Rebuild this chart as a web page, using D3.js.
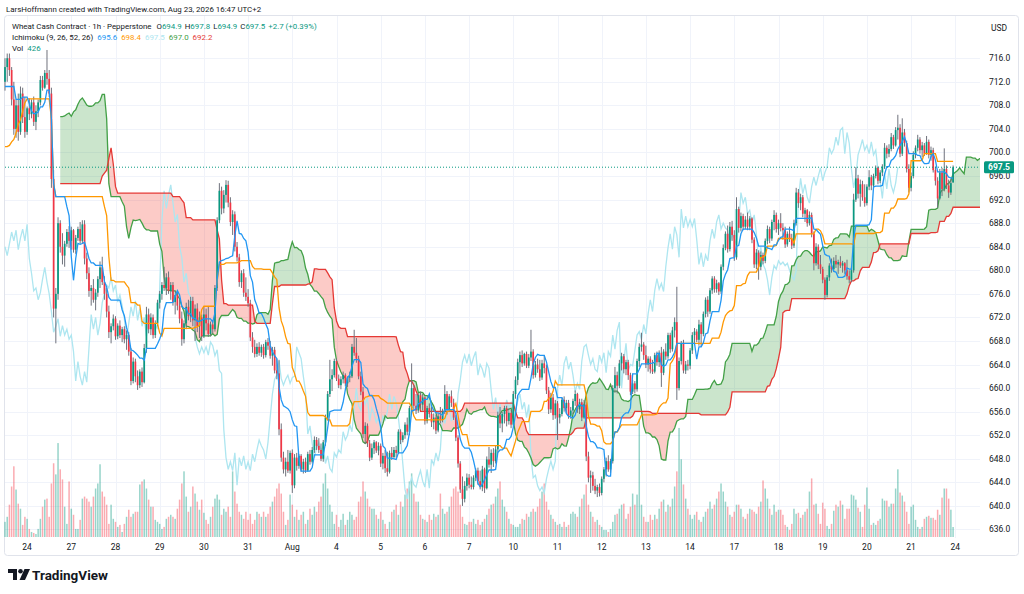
<!DOCTYPE html>
<html>
<head>
<meta charset="utf-8">
<script src="https://cdn.jsdelivr.net/npm/d3@7"></script>
<style>
html, body { margin: 0; padding: 0; background: #ffffff; }
svg { display: block; font-family: Roboto, "Liberation Sans", sans-serif; }
</style>
</head>
<body>
<div id="my_dataviz"></div>
<script>
// hourly candles, Jul 23 (last 10 bars) to Aug 21, 20 bars per session
var opens = [
712,714.5,716,714,709,704,708,703.5,710,706,
703.5,707.5,706.5,708.5,705.2,707,708.5,712.3,711,713.5,
712.5,710,695.5,673.5,676,688,684,682.5,684.5,686.5,
685,686.8,683.5,685.5,687,685,687.8,682,679.5,676.5,
677,675,676.2,678.5,680.5,678,676,673,669.5,670.5,
671.8,668.8,670.6,669,670,668.3,669,666.2,661.2,664.5,
662,660.5,662.8,661,666.8,672.5,670,672,669,671,
674.5,676,677.5,677,678.8,676.5,677.5,674.6,675.8,674,
671.8,668.3,671,673.8,672.2,674.8,671.5,673.5,670.5,672,
668.8,672.5,671,669.2,670.8,670,677,688.5,693.5,690.5,
692.8,694.5,691.5,688.2,689.5,684,682.2,678,679.5,676.2,
675.5,674.4,668.6,667,665.8,667,666,667,665.6,667.8,
667.2,665.5,666.5,663,662.5,653,648.2,646.2,647.5,646,
649,643.5,648.2,646.8,648.5,646.2,647.5,646,648.8,647.5,
649.5,651.2,650.2,649.5,648,650.8,655,659,661.5,662.2,
664.6,661.6,660.5,661.5,662.2,660.8,661.8,662,667,666,
665,662,659.4,652.2,653.6,650.6,648.2,649.8,650.8,649.4,
650.2,647.2,648.5,646.4,645.8,649,648.3,649.5,649,652.6,
651.2,652,653.8,652.6,656.6,660,657,656.2,658.8,657.2,
658.4,654.4,656.6,655.6,654.2,655,652.8,655.2,654.6,656,
659,656.4,658.6,657.5,655,651.6,647.2,642.8,641.2,643.4,
644.8,643.6,643.2,644.8,646,644.2,643.2,646.2,643,647.9,
647,649,647.6,649.6,655.4,654,655.6,656.6,654.4,655.8,
653.8,659,661.4,664.4,665.6,664.2,665.8,663.8,665.2,666.2,
662.2,664,663.2,661.8,664.2,663.4,659.6,656.4,658.4,655.4,
657.4,655,655.6,658,656.6,657.5,655.3,656.2,657.8,659,
656.4,657.6,655,657.2,648.4,644.8,645.2,643.4,642.6,643.2,
642.2,644.6,646.2,647.6,646.2,647.6,660,662.2,660.4,664.2,
665.4,663.2,664.4,662.2,659.4,660.8,659.8,664.6,667,667.4,
665.6,664,665,663.2,662.8,665.6,664.4,666,662.6,666.2,
665.4,669,666.6,669.8,671.2,660,664.6,667.6,663,664,
663.8,666.4,669,669.6,668.2,670.8,669.2,672.6,675,673,
676.6,678.6,676.8,677.8,676.4,680.6,683.8,686.2,683.6,687.4,
686,682.2,690.4,687.2,689.2,687.4,688.6,687.4,688.8,685.2,
681,683,680.6,682.6,681.6,685,687,685.4,688.2,689.4,
687,688,687.2,686.8,684.4,686.2,685.4,684.2,688,693.2,
691.4,692.4,689.6,690.2,688,689.4,686.2,681.2,684,681,
680.2,678.4,675.8,678.8,680.8,680.2,681.6,681,681.4,680.8,
681.2,680,679,678.4,680,692,695.6,693,694.6,692.4,
691.4,694.2,695.8,694.4,696,697.4,695.2,696.6,697.6,700.8,
699.8,700.6,702.6,701.2,703.8,704.2,699.8,703.4,701.6,697.2,
694,696,699.6,700.8,702.2,700.4,701.2,699.8,701.8,699.6,
700.4,697,695.2,692.2,696.6,693.8,697.2,694.4,693.2,694.9
];
var highs = [
716,716.8,716.8,714.5,712,709,710,711.2,711,709.4,
707.8,709.2,709,709.5,708,709,713,713,714,717.4,
714,711,697,677,689,688.5,686.3,685,687,687.5,
687.4,687,686,687.4,688.2,688.5,688.5,683,680.5,677.5,
678.5,676.8,679,681.5,682.3,679,677,674,671,672.5,
672.2,671,671.5,670.4,670.5,669.8,669.5,666.8,665.2,665,
663,663.2,663.5,667.5,673.8,673.5,672.7,672.5,671.5,675,
676.5,678,680.6,679.5,679.8,678,678,676.5,676.5,675,
673,671.5,674.5,675,675.5,675.5,674.2,674.4,673,672.5,
673.8,673.5,673.8,671.3,671.5,677.5,689,694.8,694.2,693.6,
695.3,695.2,692.4,690.2,690,684.8,682.8,680,680.2,678.8,
676.8,675,669.5,668.2,667.6,667.8,667.4,667.5,668.2,668.5,
668,667,667,665,664.8,654,649.2,648.2,649.5,649.4,
649.6,648.8,649,648.8,648.8,648,648.2,649.2,649.5,650,
651.8,651.7,651.5,650.6,651.2,655.5,659.5,664.8,663.2,665,
665,662.3,662,662.8,662.5,662,662.8,667.5,669.9,668.5,
665.5,662.8,660.2,654.2,654,651.2,650.6,651.2,651,650.8,
650.6,649,649.5,649.2,649.4,650,650,650.2,653,653,
652.5,654.2,655,657,664.2,660.5,659,659.2,659.4,659,
658.6,657,657.4,656.8,655.7,655.5,655.7,656.8,656.5,660.5,
659.5,659,659.6,658.2,655.4,652,647.6,645,644.2,645.5,
645.4,645,645.2,646.4,646.5,646,646.8,646.5,648.4,650,
649.6,649.8,650.2,656,656.8,656,657,657,656.5,656.3,
659.5,662,665,666.2,666.4,666,666.2,665.8,669.9,666.6,
664.6,665,664.8,664.8,665.6,664,660.2,659.2,659,658,
657.8,656.6,658.4,658.6,658,658,656.8,658.2,659.6,659.2,
658.2,658.2,658,657.6,649.2,646,645.8,644.6,643.6,643.8,
645,646.6,648.2,648.6,648,660.5,663.6,662.8,664.8,666,
665.8,664.8,664.8,662.6,661.4,661.2,665,667.6,669.4,667.8,
667.2,665.4,665.4,664.8,666,666.2,666.4,667,666.6,667.6,
669.4,669.4,670.4,672,677.2,665.2,668,668.2,664.6,664.8,
666.8,669.5,670.2,670,671.6,671.2,673,675.4,675.6,677,
679,679,678.4,678,681,684.4,686.6,687.6,688.2,688.4,
686.8,692.4,690.8,689.8,689.6,689.2,689.8,689.2,689,685.6,
683.6,683.4,683.2,683,685.4,687.6,687.4,688.6,690.2,689.8,
688.6,689.7,688,687.4,686.6,687.4,686.2,688.6,694,693.8,
693,692.8,690.6,690.4,690,689.8,686.6,684.6,684.4,682.6,
680.6,678.8,679.2,681.2,682,682.2,682.6,681.8,682.4,681.6,
681.4,681.8,680,680.6,693,697.5,696.2,695.4,695.2,694.6,
694.6,697,696.2,696.4,697.8,697.6,697,698,701.6,701.2,
701.4,703.3,703,704.3,706.4,704.8,705.8,704,702,698,
696.6,700.2,701.2,703,702.6,701.8,701.6,702.8,702.2,701,
700.8,697.6,695.8,697.2,697.4,700.7,697.8,695.4,695.6,697.8
];
var lows = [
710.5,712,713,708,703,702.5,702,703,705,702.5,
703,705.5,705.8,704.5,703.8,706,708,710.5,710.8,711.5,
709.4,694,672,667.6,675,683,681,680.6,684,683.8,
683.5,683,682.8,685,684.5,684.5,681,678.5,675.5,674,
674.5,673.2,675.5,677,677.5,675,672,668.5,667.6,669.8,
668.2,668.3,668.5,667.8,667.6,666.5,665.5,660.5,660.8,661,
659.7,660,660.2,660.8,666,669.3,669,668.4,668.5,670.5,
673.5,675,676.5,675.8,676,675,674,672.5,673.2,671,
667.2,667.6,670,671.5,671.2,670.5,668,669.5,668.5,668,
668.5,669.8,668.7,668.8,669.3,669.6,676.5,688,689.5,689.7,
691.5,690.7,687.5,686,683.2,681.5,677.2,677,675.5,674.8,
673.8,668,666,665.2,665.3,665.5,665.3,665,665.2,666.5,
665,663.8,662.5,661.5,652,647.5,645.5,645,645.6,645.5,
642.2,643,646,646.3,645.8,645.5,645.6,645.8,647,647.2,
649,649.5,649,647.6,647.5,650.2,654.5,658.5,659.5,661.8,
661.2,660,659.8,660.8,660.3,660.2,661,661.7,665.5,664.3,
661.5,658.8,651.5,650.5,650,647.6,647.8,648.8,649,648.6,
646.6,646.2,645.6,645,645.5,647.8,648,648.2,648.8,650.5,
650.8,651.4,652,652,655.8,656.2,655.6,655.8,656.5,656.2,
653.8,654,655,653.4,653,652.2,652.5,654,654.2,655.6,
655.5,656,656.8,654.6,651,646.5,642.2,640,640.6,642.6,
643,642.8,642.8,644.2,643.6,642.8,642.5,642.2,642.8,646.5,
645.6,646.6,647.2,649,653.2,652.5,654,653.5,653.8,653.2,
653.5,658.2,660.5,662.5,663.6,663.8,663.4,663.4,664.6,661.6,
661.8,662.6,661.2,661.4,662.5,659,655.6,655.8,654.6,654.8,
651.2,654,655.2,656,655.8,654.8,654.8,655.6,657,655.8,
655.6,654.4,654.8,647.6,644,642.2,642.6,642,641.5,641.6,
641.8,644,645,645.8,645.6,647.2,659.2,659.1,660,663,
662.5,662.2,661.4,658.8,659,659.1,659.4,663.6,666.2,664.8,
663.4,662.8,662.5,662.4,662.5,663.8,663.6,660.2,662.2,664.8,
665,666,666.2,668.6,658,659.6,664,662.5,662.4,663,
663.2,665.8,667.6,667.8,667.2,667,668.8,672,672.1,672.6,
676,676.2,676.2,675.8,676,680,683.4,683,683.2,685,
681.6,681.8,686.4,686.6,686.8,687,686.8,686.8,684.6,680.4,
680.2,678.4,680,681,681.2,684.4,684.6,685,686.8,686.4,
686,686.6,685.2,683.8,684,684.8,683.6,683.8,687.6,690.6,
690.2,689,688.2,687.4,687.6,685.6,680,680.8,680.2,679.4,
677.8,675,675.4,678.2,679.6,679.8,680.4,679.4,680.4,679.6,
679.4,678.4,677.8,678,679.6,691.6,692.2,690.8,691.8,690.8,
691,693.6,693.6,694,695.6,694.6,694.8,696,697.2,699,
699.2,700.2,700.6,701,702.2,699.2,699.4,701,696.6,693.2,
693.4,695.6,699,700.2,699.8,699.2,699.4,699.6,699,698.6,
696.6,694.4,690.6,692,692.6,693.4,693.8,692.3,692.8,694.9
];
var closes = [
714.5,716,714,709,704,708,703.5,710,706,703.5,
707.5,706.5,708.5,705.2,707,708.5,712.3,711,713.5,712.5,
710,695.5,673.5,676,688,684,682.5,684.5,686.5,685,
686.8,683.5,685.5,687,685,687.8,682,679.5,676.5,677,
675,676.2,678.5,680.5,678,676,673,669.5,670.5,671.8,
668.8,670.6,669,670,668.3,669,666.2,661.2,664.5,662,
660.5,662.8,661,666.8,672.5,670,672,669,671,674.5,
676,677.5,677,678.8,676.5,677.5,674.6,675.8,674,671.8,
668.3,671,673.8,672.2,674.8,671.5,673.5,670.5,672,668.8,
672.5,671,669.2,670.8,670,677,688.5,693.5,690.5,692.8,
694.5,691.5,688.2,689.5,684,682.2,678,679.5,676.2,675.5,
674.4,668.6,667,665.8,667,666,667,665.6,667.8,667.2,
665.5,666.5,663,662.5,653,648.2,646.2,647.5,646,649,
643.5,648.2,646.8,648.5,646.2,647.5,646,648.8,647.5,649.5,
651.2,650.2,649.5,648,650.8,655,659,661.5,662.2,664.6,
661.6,660.5,661.5,662.2,660.8,661.8,662,667,666,665,
662,659.4,652.2,653.6,650.6,648.2,649.8,650.8,649.4,650.2,
647.2,648.5,646.4,645.8,649,648.3,649.5,649,652.6,651.2,
652,653.8,652.6,656.6,660,657,656.2,658.8,657.2,658.4,
654.4,656.6,655.6,654.2,655,652.8,655.2,654.6,656,659,
656.4,658.6,657.5,655,651.6,647.2,642.8,641.2,643.4,644.8,
643.6,643.2,644.8,646,644.2,643.2,646.2,643,647.9,647,
649,647.6,649.6,655.4,654,655.6,656.6,654.4,655.8,653.8,
659,661.4,664.4,665.6,664.2,665.8,663.8,665.2,666.2,662.2,
664,663.2,661.8,664.2,663.4,659.6,656.4,658.4,655.4,657.4,
655,655.6,658,656.6,657.5,655.3,656.2,657.8,659,656.4,
657.6,655,657.2,648.4,644.8,645.2,643.4,642.6,643.2,642.2,
644.6,646.2,647.6,646.2,647.6,660,662.2,660.4,664.2,665.4,
663.2,664.4,662.2,659.4,660.8,659.8,664.6,667,667.4,665.6,
664,665,663.2,662.8,665.6,664.4,666,662.6,666.2,665.4,
669,666.6,669.8,671.2,660,664.6,667.6,663,664,663.8,
666.4,669,669.6,668.2,670.8,669.2,672.6,675,673,676.6,
678.6,676.8,677.8,676.4,680.6,683.8,686.2,683.6,687.4,686,
682.2,690.4,687.2,689.2,687.4,688.6,687.4,688.8,685.2,681,
683,680.6,682.6,681.6,685,687,685.4,688.2,689.4,687,
688,687.2,686.8,684.4,686.2,685.4,684.2,688,693.2,691.4,
692.4,689.6,690.2,688,689.4,686.2,681.2,684,681,680.2,
678.4,675.8,678.8,680.8,680.2,681.6,681,681.4,680.8,681.2,
680,679,678.4,680,692,695.6,693,694.6,692.4,691.4,
694.2,695.8,694.4,696,697.4,695.2,696.6,697.6,700.8,699.8,
700.6,702.6,701.2,703.8,704.2,699.8,703.4,701.6,697.2,694,
696,699.6,700.8,702.2,700.4,701.2,699.8,701.8,699.6,700.4,
697,695.2,692.2,696.6,693.8,697.2,694.4,693.2,694.8,697.5
];
var volumes = [
645,860,1376,2150,3010,2021,1419,1204,516,860,
774,344,215,172,129,344,774,1290,1591,1634,
860,2279,3139,2666,3999,2881,2451,1290,559,2365,
1204,946,344,344,731,1634,1720,1634,1505,1290,
1720,2064,2279,3096,1935,1720,1376,559,1376,774,
645,430,516,215,559,860,1161,860,989,1075,
1075,2236,2365,2451,2064,1591,1290,1290,731,645,
559,344,430,774,860,946,860,774,1204,1591,
2279,2795,1720,1075,1290,2150,
1849,1505,1161,1591,1032,731,559,860,1290,1634,1806,1591,946,1204,1075,1290,860,
2795,1935,1419,1075,946,774,1075,731,989,559,731,1075,989,860,1075,860,989,1290,1505,1720,2064,
2279,1849,1075,516,731,1806,1376,860,1161,731,946,1075,559,731,1204,946,1290,1075,1505,1720,2279,2709,
2064,1376,1075,559,946,430,731,989,516,731,1075,946,731,860,1505,1720,2365,1935,1634,1290,1204,
1204,946,774,1075,731,559,344,645,1075,1161,1376,946,1505,1290,1806,2064,2365,2709,1849,1505,
1505,946,774,731,645,946,731,989,860,946,1849,1204,989,1075,1290,1720,2064,2150,1935,1376,860,559,516,645,
645,774,559,731,516,645,774,946,1204,1376,1419,1720,2064,2365,1591,1290,1075,774,559,516,430,
430,559,774,731,989,860,1075,1204,1075,1290,1634,1935,2279,1505,1161,946,774,645,516,
559,430,645,430,516,989,1075,989,860,1290,1634,1806,2236,1376,1075,860,645,731,516,430,301,
301,215,344,645,946,989,1204,1376,1419,774,989,1290,1849,1376,1806,5031,1376,860,645,
645,946,731,946,774,1204,1505,1591,1075,1376,1290,1634,2150,2795,4644,3311,2236,1634,1204,946,774,
946,1075,731,645,860,1075,1204,1505,1204,1376,1634,1935,2279,1935,1505,1290,946,860,1075,1376,
1376,1204,860,774,989,1204,1161,1075,989,1290,1505,2408,2064,1634,1204,946,1376,1075,1161,
1161,946,516,430,301,559,1204,989,1032,817,
946,1075,1204,1935,2494,1376,1419,989,559,1462,
1204,473,344,559,1118,1376,1290,1548,1376,774,
1204,1204,1806,1763,1591,1247,1075,430,1376,2107,
1204,516,602,516,688,774,1634,1548,1548,1290,
1419,1419,2064,2881,1892,1763,1505,1075,559,1290,
1376,731,430,344,430,774,860,903,817,817,
731,1161,946,1677,2064,2064,1634,1161,426
];

var tenkanHead = [711.2,711.2,711.2,711.2,711.2,709,709,709];
var kijunHead = [701,701,701.2,701.8,702.2,703.3,704.8,705.5,707,708.4,
    709.1,709.1,709.1,709.1,709.1,709.1,709.1,709.1,709.1,709.1,709.1,705.7,694.7,692.5,692.5];
var spanBHead = [694.7,694.7,694.7,694.7,694.7,694.7,694.7,694.7,694.7,694.7,
    694.7,694.7,694.7,694.7,694.7,694.7,694.7,694.7,694.7,696,696.5,697,699,700.8,698,694.2,
    693.1,693.1,693.1,693.1,693.1,693.1,693.1,693.1,693.1,693.1,693.1,693.1,693.1,693.1,
    693.1,693.1,693.1,693.1,693.1,693.1,693.1,693.1,693.1,693.1,693.1];

var dayLabels = ["24","27","28","29","30","31","Aug","4","5","6","7","10","11","12","13","14","17","18","19","20","21","24"];
var priceTicks = [636,640,644,648,652,656,660,664,668,672,676,680,684,688,692,696,700,704,708,712,716];
var ohlcLabels = ["O","H","L","C"];
var ohlcValues = ["694.9","697.8","694.9","697.5"];
var ichiValues = ["695.6","698.4","697.5","697.0","692.2"];
var lastPrice = 697.5;

var width = 1024;
var height = 594;
var barsPerDay = 20;
var firstDayBar = 10;
var shift = 25;

var up_colour = '#089981';
var down_colour = '#F23645';
var text_colour = '#131722';
var grid_colour = '#f0f3fa';

var svg = d3.select("#my_dataviz").append('svg').attr('width', width).attr('height', height);

var n = closes.length;
var idx = d3.range(n);

var x = d3.scaleLinear().domain([0, n - 1]).range([5, 5 + (n - 1) * 2.21]);
var y = d3.scaleLinear().domain([633.4, 723.0]).range([544.8, 17]);
var vy = d3.scaleLinear().domain([0, 4300]).range([537, 436]);

// ichimoku lines
function mid(i, len){
    var lo = i - len + 1;
    return (d3.max(highs.slice(lo, i + 1)) + d3.min(lows.slice(lo, i + 1))) / 2;
}
var tenkan = idx.map(function(i){ return i < 8 ? tenkanHead[i] : mid(i, 9); });
var kijun = idx.map(function(i){ return i < 25 ? kijunHead[i] : mid(i, 26); });
var spanA = idx.map(function(i){ return (tenkan[i] + kijun[i]) / 2; });
var spanB = idx.map(function(i){ return i < 51 ? spanBHead[i] : mid(i, 52); });

var defs = svg.append('defs');
defs.append('clipPath').attr('id', 'plot_clip').append('rect')
    .attr('x', 4).attr('y', 16).attr('width', 976).attr('height', 522);

// frame
svg.append('rect').attr('x', 4.5).attr('y', 15.5).attr('width', 1014).attr('height', 540)
    .attr('rx', 3).attr('fill', 'none').attr('stroke', '#e0e3eb');

// grid
var grid_group = svg.append('g').attr('class', 'grid_group');
grid_group.selectAll('.h_grid').data(priceTicks).enter().append('line')
    .attr('x1', 5).attr('x2', 980)
    .attr('y1', function(d){ return Math.round(y(d)) + 0.5; })
    .attr('y2', function(d){ return Math.round(y(d)) + 0.5; })
    .attr('stroke', grid_colour).attr('stroke-width', 1);
grid_group.selectAll('.v_grid').data(dayLabels).enter().append('line')
    .attr('x1', function(d, k){ return Math.round(x(firstDayBar + k * barsPerDay)) + 0.5; })
    .attr('x2', function(d, k){ return Math.round(x(firstDayBar + k * barsPerDay)) + 0.5; })
    .attr('y1', 16).attr('y2', 538)
    .attr('stroke', grid_colour).attr('stroke-width', 1);

var plot = svg.append('g').attr('clip-path', 'url(#plot_clip)');

// volume
plot.append('g').selectAll('rect').data(idx.filter(function(i){ return volumes[i] != null; })).enter().append('rect')
    .attr('x', function(i){ return x(i) - 0.75; })
    .attr('width', 1.5)
    .attr('y', function(i){ return vy(volumes[i]); })
    .attr('height', function(i){ return vy(0) - vy(volumes[i]); })
    .attr('fill', function(i){ return closes[i] >= opens[i] ? 'rgba(8,153,129,0.42)' : 'rgba(242,54,69,0.42)'; });

// cloud
var lead = idx.map(function(i){ return {i: i + shift, a: spanA[i], b: spanB[i]}; });
plot.append('path').datum(lead)
    .attr('d', d3.area().x(function(d){ return x(d.i); })
        .y0(function(d){ return y(d.b); })
        .y1(function(d){ return y(Math.max(d.a, d.b)); }))
    .attr('fill', 'rgba(67,160,71,0.28)');
plot.append('path').datum(lead)
    .attr('d', d3.area().x(function(d){ return x(d.i); })
        .y0(function(d){ return y(d.b); })
        .y1(function(d){ return y(Math.min(d.a, d.b)); }))
    .attr('fill', 'rgba(244,67,54,0.28)');

var line = d3.line().x(function(d){ return x(d.i); }).y(function(d){ return y(d.v); });

var lagging = idx.filter(function(i){ return i >= shift; }).map(function(i){ return {i: i - shift, v: closes[i]}; });
plot.append('path').datum(lagging).attr('d', line)
    .attr('fill', 'none').attr('stroke', '#aee6f0').attr('stroke-width', 1.3);

plot.append('path').datum(lead.map(function(d){ return {i: d.i, v: d.a}; })).attr('d', line)
    .attr('fill', 'none').attr('stroke', '#43a047').attr('stroke-width', 1.3);
plot.append('path').datum(lead.map(function(d){ return {i: d.i, v: d.b}; })).attr('d', line)
    .attr('fill', 'none').attr('stroke', '#e53935').attr('stroke-width', 1.3);

// candles
var candle_group = plot.append('g').attr('class', 'candle_group');
candle_group.selectAll('.wick').data(idx).enter().append('line')
    .attr('x1', function(i){ return x(i); }).attr('x2', function(i){ return x(i); })
    .attr('y1', function(i){ return y(highs[i]); }).attr('y2', function(i){ return y(lows[i]); })
    .attr('stroke', '#6f727c').attr('stroke-width', 1);
candle_group.selectAll('.body').data(idx).enter().append('rect')
    .attr('x', function(i){ return x(i) - 0.85; })
    .attr('width', 1.7)
    .attr('y', function(i){ return y(Math.max(opens[i], closes[i])); })
    .attr('height', function(i){ return Math.max(1, Math.abs(y(opens[i]) - y(closes[i]))); })
    .attr('fill', function(i){ return closes[i] >= opens[i] ? up_colour : down_colour; });

plot.append('path').datum(idx.map(function(i){ return {i: i, v: kijun[i]}; })).attr('d', line)
    .attr('fill', 'none').attr('stroke', '#ff9800').attr('stroke-width', 1.3);
plot.append('path').datum(idx.map(function(i){ return {i: i, v: tenkan[i]}; })).attr('d', line)
    .attr('fill', 'none').attr('stroke', '#2196f3').attr('stroke-width', 1.3);

// last price line
svg.append('line').attr('x1', 5).attr('x2', 980)
    .attr('y1', y(lastPrice)).attr('y2', y(lastPrice))
    .attr('stroke', up_colour).attr('stroke-width', 1).attr('stroke-dasharray', '1,2');

// price axis
var axis_group = svg.append('g').attr('class', 'axis_group')
    .style('font-size', '8.5px').attr('fill', text_colour);
axis_group.selectAll('.p_text').data(priceTicks).enter().append('text')
    .attr('x', 989).attr('y', function(d){ return y(d) + 3; })
    .text(function(d){ return d3.format('.1f')(d); });
axis_group.append('text').attr('x', 991).attr('y', 31).text('USD');

svg.append('rect').attr('x', 984).attr('y', y(lastPrice) - 6).attr('width', 30).attr('height', 12)
    .attr('rx', 1.5).attr('fill', up_colour);
svg.append('text').attr('x', 999).attr('y', y(lastPrice) + 3)
    .attr('text-anchor', 'middle').attr('fill', '#ffffff')
    .style('font-size', '8.5px').style('font-weight', 'bold')
    .text(d3.format('.1f')(lastPrice));

// time axis
axis_group.selectAll('.t_text').data(dayLabels).enter().append('text')
    .attr('x', function(d, k){ return x(firstDayBar + k * barsPerDay); })
    .attr('y', 550)
    .attr('text-anchor', 'middle')
    .text(function(d){ return d; });

// header
var head = svg.append('g').style('font-size', '7.9px').attr('fill', text_colour);
head.append('text').attr('x', 6).attr('y', 12)
    .text('LarsHoffmann created with TradingView.com, Aug 23, 2026 16:47 UTC+2');

var title = head.append('text').attr('x', 12).attr('y', 28.5);
title.append('tspan').text('Wheat Cash Contract · 1h · Pepperstone');
ohlcLabels.forEach(function(l, k){
    title.append('tspan').attr('dx', k ? 3 : 5).text(l);
    title.append('tspan').attr('fill', up_colour).text(ohlcValues[k]);
});
title.append('tspan').attr('dx', 3).attr('fill', up_colour).text('+2.7 (+0.39%)');

var ichi = head.append('text').attr('x', 12).attr('y', 39.5);
ichi.append('tspan').text('Ichimoku (9, 26, 52, 26)');
var ichi_colours = ['#2196f3', '#ff9800', '#aee6f0', '#43a047', '#e53935'];
ichiValues.forEach(function(v, k){
    ichi.append('tspan').attr('dx', 4).attr('fill', ichi_colours[k]).text(v);
});

var vol = head.append('text').attr('x', 12).attr('y', 51);
vol.append('tspan').text('Vol');
vol.append('tspan').attr('dx', 4).attr('fill', up_colour).text(d3.format('d')(volumes[n - 1]));

// logo
var logo = svg.append('g').attr('fill', text_colour);
logo.append('path').attr('d', 'M8 569 h9 v11 h-4 v-7 h-5 z');
logo.append('circle').attr('cx', 20.5).attr('cy', 571.3).attr('r', 2.3);
logo.append('path').attr('d', 'M24.5 569 h5.5 l-5 11 h-5.5 z');
logo.append('text').attr('x', 32).attr('y', 580).style('font-size', '13.5px').style('font-weight', 'bold')
    .text('TradingView');
</script>
</body>
</html>
